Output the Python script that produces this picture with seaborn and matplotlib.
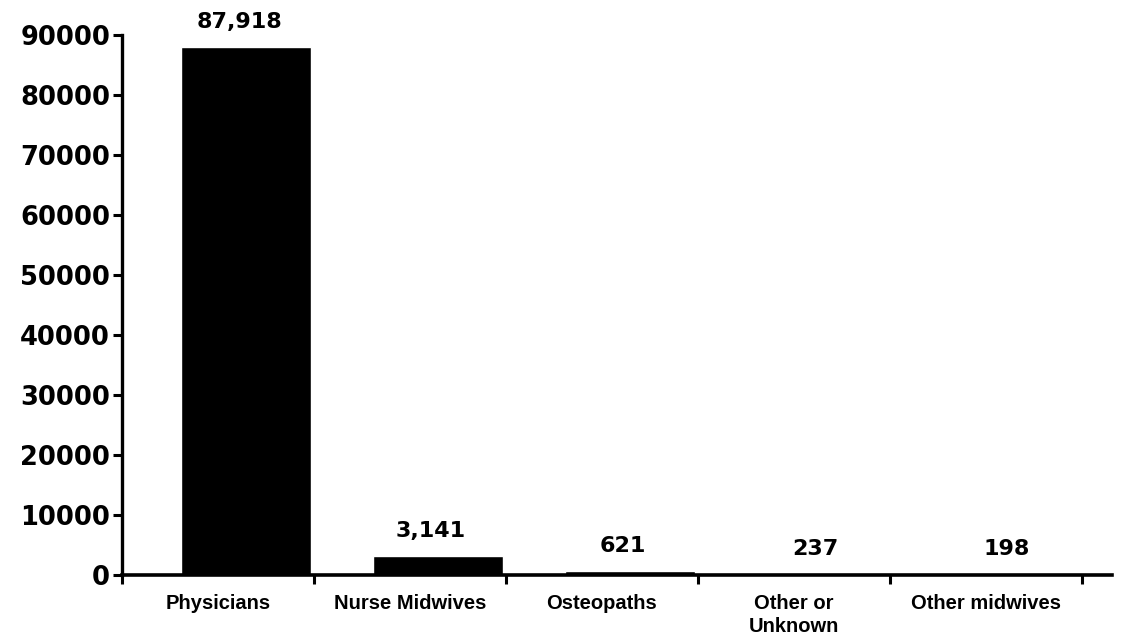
import numpy as np
import matplotlib
matplotlib.use("Agg")
import matplotlib.pyplot as plt
from matplotlib.ticker import FixedLocator, NullFormatter
import seaborn as sns

# Births by attendant type
categories = ["Physicians", "Nurse Midwives", "Osteopaths", "Other or\nUnknown", "Other midwives"]
counts = [87918, 3141, 621, 237, 198]
y_ticks = [0, 10000, 20000, 30000, 40000, 50000, 60000, 70000, 80000, 90000]

sns.set_theme(style="ticks")
plt.rcParams["font.family"] = ["DejaVu Sans"]

fig = plt.figure(figsize=(11.23, 6.41), dpi=100)
ax = fig.add_axes([0.1086, 0.103, 0.8816, 0.8424])

sns.barplot(x=categories, y=counts, color="black", saturation=1,
            width=0.68, ax=ax, zorder=2)

# each bar sits toward the right of its slot; slot edges carry the ticks
slot_shift = 0.646
ax.set_xlim(-slot_shift, 4.51)
ax.set_ylim(0, 90000)

n = len(categories)
ax.xaxis.set_major_locator(FixedLocator(np.arange(n) - (slot_shift - 0.5)))
ax.set_xticklabels(categories, fontfamily="Liberation Sans", fontweight="bold",
                   fontsize=14.5, linespacing=1.25, va="top")
ax.xaxis.set_minor_locator(FixedLocator(np.arange(n + 1) - slot_shift))
ax.xaxis.set_minor_formatter(NullFormatter())
ax.tick_params(axis="x", which="major", length=0, pad=14, colors="black")
ax.tick_params(axis="x", which="minor", length=6.5, width=2.2, direction="out",
               color="black")

ax.set_yticks(y_ticks)
ax.set_yticklabels([str(t) for t in y_ticks], fontweight="bold", fontsize=18.5)
ax.tick_params(axis="y", length=6.5, width=2.2, pad=2, colors="black")

for side in ("top", "right"):
    ax.spines[side].set_visible(False)
for side in ("left", "bottom"):
    ax.spines[side].set_color("black")
    ax.spines[side].set_zorder(3)
ax.spines["left"].set_linewidth(2.4)
ax.spines["bottom"].set_linewidth(2.6)

ax.set_xlabel("")
ax.set_ylabel("")

# value labels above each bar
for i, v in enumerate(counts):
    ax.annotate(f"{v:,}", xy=(i, v), xytext=(-7, 15), textcoords="offset pixels",
                ha="center", va="bottom", fontsize=16, fontweight="bold",
                color="black")

fig.savefig("out.png", dpi=100, facecolor="white")
